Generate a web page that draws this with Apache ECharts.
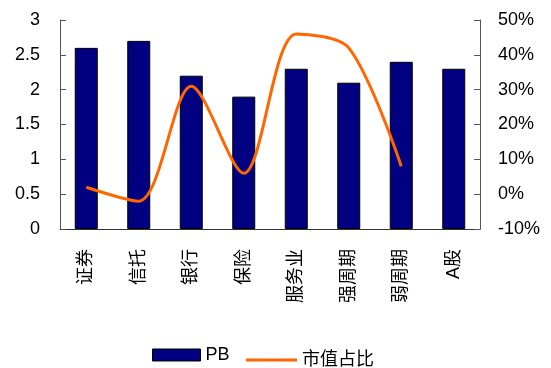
<!DOCTYPE html>
<html>
<head>
<meta charset="utf-8">
<style>
  html, body { margin: 0; padding: 0; background: #fff; }
  #chart { width: 551px; height: 368px; }
</style>
<script src="https://cdn.jsdelivr.net/npm/echarts@6/dist/echarts.min.js"></script>
</head>
<body>
<div id="chart"></div>
<script>
// 行业类别
const categories = ['证券', '信托', '银行', '保险', '服务业', '强周期', '弱周期', 'A股']
// PB
const pbValues = [2.6, 2.7, 2.2, 1.9, 2.3, 2.1, 2.4, 2.3]
// 市值占比(%)，A股无值
const shareValues = [2, -2, 31, 6, 46, 42, 8, null]

const font = 'Arial, "Liberation Sans", "Noto Sans CJK SC", sans-serif'
const chart = echarts.init(document.getElementById('chart'))

const option = {
  animation: false,
  textStyle: { fontFamily: font },
  grid: { left: 60, right: 71, top: 20, bottom: 139 },
  legend: [
    {
      data: ['PB'],
      left: 152,
      top: 346,
      padding: 0,
      itemWidth: 48,
      itemHeight: 12,
      icon: 'rect',
      itemStyle: { borderColor: '#000', borderWidth: 1 },
      textStyle: { fontSize: 18, color: '#000', fontFamily: font }
    },
    {
      data: ['市值占比'],
      left: 246,
      top: 351,
      padding: 0,
      itemWidth: 51,
      itemHeight: 3,
      itemGap: 4,
      icon: 'rect',
      itemStyle: { color: '#ff6600', borderWidth: 0 },
      textStyle: { fontSize: 18, color: '#000', fontFamily: font }
    }
  ],
  xAxis: {
    type: 'category',
    data: categories,
    axisLine: { lineStyle: { color: '#333', width: 1 } },
    axisTick: { inside: true, length: 6, lineStyle: { color: '#555' } },
    axisLabel: {
      rotate: 90,
      margin: 20,
      fontSize: 18,
      color: '#000',
      fontFamily: font
    }
  },
  yAxis: [
    {
      type: 'value',
      min: 0,
      max: 3,
      interval: 0.5,
      axisLine: { show: true, lineStyle: { color: '#555' } },
      axisTick: { show: true, inside: true, length: 6, lineStyle: { color: '#555' } },
      splitLine: { show: false },
      axisLabel: { fontSize: 18, color: '#000', margin: 20, fontFamily: font }
    },
    {
      type: 'value',
      min: -10,
      max: 50,
      interval: 10,
      axisLine: { show: true, lineStyle: { color: '#555' } },
      axisTick: { show: true, inside: true, length: 6, lineStyle: { color: '#555' } },
      splitLine: { show: false },
      axisLabel: { fontSize: 18, color: '#000', margin: 18, fontFamily: font, formatter: '{value}%' }
    }
  ],
  series: [
    {
      name: 'PB',
      type: 'bar',
      yAxisIndex: 0,
      data: pbValues,
      barWidth: 23,
      itemStyle: { color: '#000080', borderColor: '#000', borderWidth: 1 }
    },
    {
      name: '市值占比',
      type: 'line',
      yAxisIndex: 1,
      data: shareValues,
      smooth: 0.3,
      symbol: 'none',
      lineStyle: { color: '#ff6600', width: 3 },
      itemStyle: { color: '#ff6600' }
    }
  ]
}

chart.setOption(option)
</script>
</body>
</html>
